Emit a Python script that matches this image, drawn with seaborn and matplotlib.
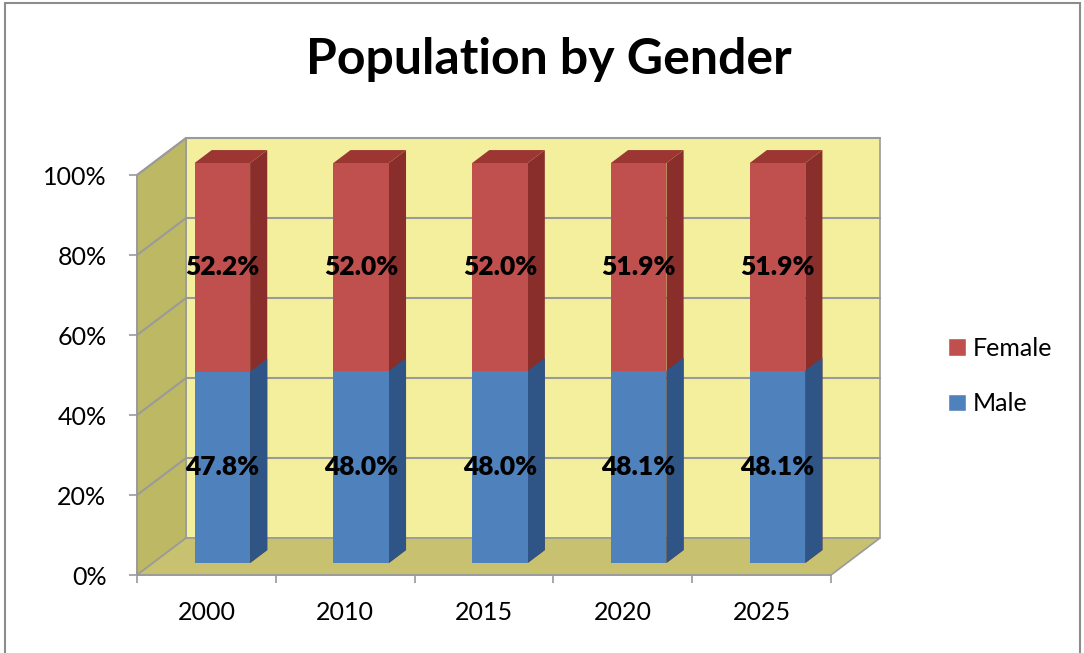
import matplotlib
matplotlib.use("Agg")
import matplotlib.pyplot as plt
from matplotlib.patches import Polygon, Patch, Rectangle
from matplotlib.transforms import Affine2D
import numpy as np
import pandas as pd
import seaborn as sns

# data
years = ["2000", "2010", "2015", "2020", "2025"]
male = [47.8, 48.0, 48.0, 48.1, 48.1]
female = [52.2, 52.0, 52.0, 51.9, 51.9]
y_ticks = [0, 20, 40, 60, 80, 100]

df = pd.DataFrame({"year": years, "male": male, "female": female})
df["total"] = df["male"] + df["female"]

# colours
FEMALE = "#C0504D"
FEMALE_SIDE = "#8A2E2C"
FEMALE_TOP = "#9B3633"
MALE = "#4F81BD"
MALE_SIDE = "#2E5585"
WALL = "#F4EF9C"
SIDE_WALL = "#BDB864"
FLOOR = "#C8C270"
GRID = "#9A9A9A"

sns.set_style("white")
plt.rcParams["font.family"] = ["Lato", "DejaVu Sans"]
plt.rcParams["text.color"] = "black"
plt.rcParams["xtick.labelcolor"] = "black"
plt.rcParams["ytick.labelcolor"] = "black"

fig = plt.figure(figsize=(10.84, 6.53), dpi=100)
ax = fig.add_axes([0.1264, 0.1194, 0.6914, 0.6738])

# oblique depth vector (data units) and bar depth span
DX, DY = 0.353, 9.25
T0, T1 = 0.325, 0.675
n = len(years)
x_lo, x_hi = -0.5, n - 0.5
top = y_ticks[-1]

# walls and floor
ax.add_patch(Polygon([(x_lo + DX, DY), (x_hi + DX, DY), (x_hi + DX, top + DY), (x_lo + DX, top + DY)],
                     facecolor=WALL, edgecolor=GRID, lw=1.2, zorder=0, clip_on=False))
ax.add_patch(Polygon([(x_lo, 0), (x_lo + DX, DY), (x_lo + DX, top + DY), (x_lo, top)],
                     facecolor=SIDE_WALL, edgecolor=GRID, lw=1.2, zorder=0, clip_on=False))
ax.add_patch(Polygon([(x_lo, 0), (x_hi, 0), (x_hi + DX, DY), (x_lo + DX, DY)],
                     facecolor=FLOOR, edgecolor=GRID, lw=1.2, zorder=0, clip_on=False))
for v in y_ticks[1:]:
    ax.plot([x_lo + DX, x_hi + DX], [v + DY, v + DY], color=GRID, lw=1.5, zorder=0.5, clip_on=False)
    ax.plot([x_lo, x_lo + DX], [v, v + DY], color=GRID, lw=1.5, zorder=0.5, clip_on=False)

# stacked bars: female drawn as total, male on top
sns.barplot(data=df, x="year", y="total", color=FEMALE, saturation=1, width=0.4,
            edgecolor="none", ax=ax)
sns.barplot(data=df, x="year", y="male", color=MALE, saturation=1, width=0.4,
            edgecolor="none", ax=ax)

front = Affine2D().translate(T0 * DX, T0 * DY) + ax.transData
for cont, side_col, top_col in [(ax.containers[0], FEMALE_SIDE, FEMALE_TOP),
                                (ax.containers[1], MALE_SIDE, None)]:
    for bar in cont:
        x0, w = bar.get_x(), bar.get_width()
        y0, h = bar.get_y(), bar.get_height()
        x1, y1 = x0 + w, y0 + h
        ax.add_patch(Polygon([(x1 + T0 * DX, y0 + T0 * DY), (x1 + T1 * DX, y0 + T1 * DY),
                              (x1 + T1 * DX, y1 + T1 * DY), (x1 + T0 * DX, y1 + T0 * DY)],
                             facecolor=side_col, edgecolor="none", zorder=1, clip_on=False))
        if top_col:
            ax.add_patch(Polygon([(x0 + T0 * DX, y1 + T0 * DY), (x1 + T0 * DX, y1 + T0 * DY),
                                  (x1 + T1 * DX, y1 + T1 * DY), (x0 + T1 * DX, y1 + T1 * DY)],
                                 facecolor=top_col, edgecolor="none", zorder=1, clip_on=False))
        bar.set_transform(front)
        bar.set_zorder(2)
        bar.set_clip_on(False)

# data labels on the front faces
for i in range(n):
    ax.text(i + T0 * DX, male[i] / 2 + T0 * DY, f"{male[i]:.1f}%", ha="center", va="center",
            fontsize=19, fontweight="heavy", color="black", zorder=3)
    ax.text(i + T0 * DX, male[i] + female[i] / 2 + T0 * DY, f"{female[i]:.1f}%", ha="center",
            va="center", fontsize=19, fontweight="heavy", color="black", zorder=3)

# axes
ax.set_xlim(x_lo, x_hi + 0.4)
ax.set_ylim(0, 110)
ax.set_xlabel("")
ax.set_ylabel("")
ax.set_yticks(y_ticks)
ax.set_yticklabels([f"{v}%" for v in y_ticks])
ax.set_xticks(range(n))
ax.set_xticklabels(years)
ax.set_xticks(np.arange(x_lo, x_hi + 0.01, 1), minor=True)
ax.tick_params(axis="y", length=6, width=1.2, color=GRID, pad=16, labelsize=18, left=True,
               labelcolor="black")
ax.tick_params(axis="x", which="major", length=0, pad=19, labelsize=18, labelcolor="black")
ax.tick_params(axis="x", which="minor", length=6, width=1.2, color=GRID, bottom=True)
for s in ["top", "right"]:
    ax.spines[s].set_visible(False)
ax.spines["left"].set_bounds(0, top)
ax.spines["bottom"].set_bounds(x_lo, x_hi)
for s in ["left", "bottom"]:
    ax.spines[s].set_color(GRID)
    ax.spines[s].set_linewidth(1.2)
ax.patch.set_alpha(0)

fig.text(549 / 1084, 1 - 60 / 653, "Population by Gender", ha="center", va="center",
         fontsize=36, fontweight="bold", color="black")

handles = [Patch(facecolor=FEMALE, label="Female"), Patch(facecolor=MALE, label="Male")]
fig.legend(handles=handles, loc="center left", bbox_to_anchor=(948 / 1084, 1 - 376 / 653),
           frameon=False, fontsize=18, handlelength=0.7, handleheight=0.7,
           handletextpad=0.3, labelspacing=1.3, borderpad=0, borderaxespad=0,
           labelcolor="black")

fig.patches.append(Rectangle((5 / 1084, -0.05), 1075 / 1084, 1 - 3 / 653 + 0.05,
                             transform=fig.transFigure, fill=False, edgecolor="#8C8C8C",
                             lw=1.5, zorder=0))

fig.savefig("out.png", dpi=100)
